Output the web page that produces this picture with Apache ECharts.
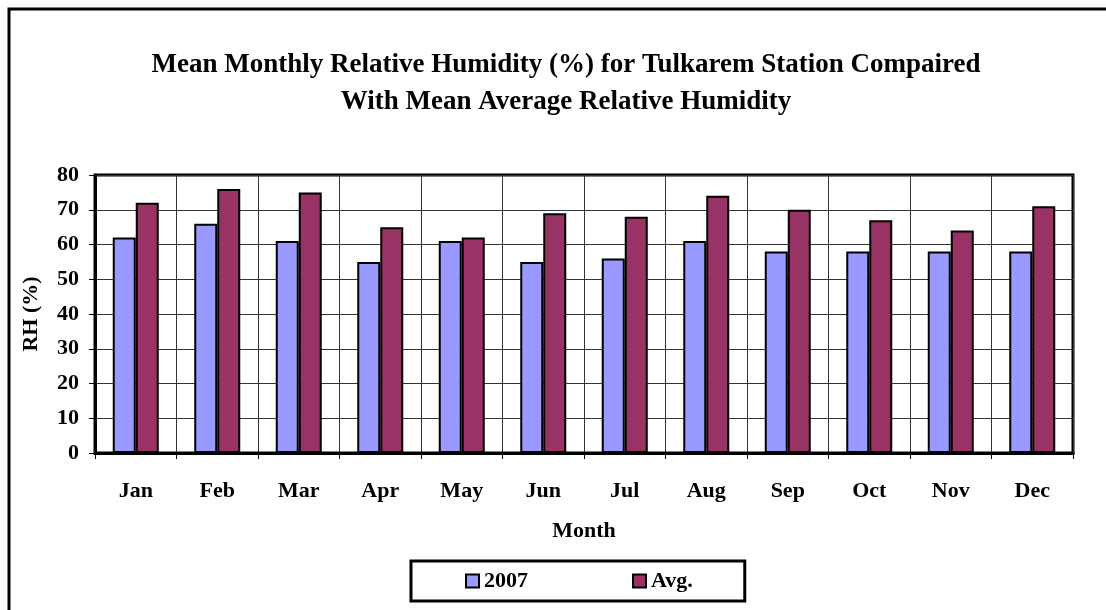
<!DOCTYPE html>
<html>
<head>
<meta charset="utf-8">
<script src="https://cdn.jsdelivr.net/npm/echarts@6/dist/echarts.min.js"></script>
<style>
  html, body { margin: 0; padding: 0; background: #fff; }
  #chart { width: 1106px; height: 610px; }
</style>
</head>
<body>
<div id="chart"></div>
<script>
  const months = ['Jan', 'Feb', 'Mar', 'Apr', 'May', 'Jun', 'Jul', 'Aug', 'Sep', 'Oct', 'Nov', 'Dec']
  const rh2007 = [62, 66, 61, 55, 61, 55, 56, 61, 58, 58, 58, 58]
  const rhAvg = [72, 76, 75, 65, 62, 69, 68, 74, 70, 67, 64, 71]

  const font = '"Liberation Serif", "Times New Roman", serif'

  const chart = echarts.init(document.getElementById('chart'))
  const options = {
    backgroundColor: '#fff',
    animation: false,
    title: {
      text: 'Mean Monthly Relative Humidity (%) for Tulkarem Station Compaired\nWith Mean Average Relative Humidity',
      left: 561,
      textAlign: 'center',
      top: 42,
      textStyle: {
        fontFamily: font,
        fontSize: 27,
        fontWeight: 'bold',
        color: '#000',
        lineHeight: 37
      }
    },
    graphic: [
      {
        type: 'rect',
        shape: { x: 9, y: 9, width: 1200, height: 700 },
        style: { fill: 'none', stroke: '#000', lineWidth: 3 },
        silent: true
      }
    ],
    legend: {
      left: 411,
      top: 561,
      orient: 'horizontal',
      padding: [9, 52, 9, 54],
      itemGap: 104,
      itemWidth: 13,
      itemHeight: 13,
      icon: 'rect',
      borderColor: '#000',
      borderWidth: 3,
      textStyle: {
        fontFamily: font,
        fontSize: 22,
        fontWeight: 'bold',
        color: '#000'
      },
      data: ['2007', 'Avg.']
    },
    grid: {
      left: 95,
      right: 33,
      top: 175,
      bottom: 157,
      show: true,
      borderColor: '#000',
      borderWidth: 3
    },
    xAxis: {
      type: 'category',
      data: months,
      name: 'Month',
      nameLocation: 'middle',
      nameGap: 67,
      nameTextStyle: {
        fontFamily: font,
        fontSize: 22,
        fontWeight: 'bold',
        color: '#000'
      },
      axisLine: { lineStyle: { color: '#000', width: 3 } },
      axisTick: { show: true, length: 6, lineStyle: { color: '#000' } },
      axisLabel: {
        margin: 27,
        fontFamily: font,
        fontSize: 22,
        fontWeight: 'bold',
        color: '#000'
      },
      splitLine: { show: true, lineStyle: { color: '#333', width: 1 } }
    },
    yAxis: {
      type: 'value',
      min: 0,
      max: 80,
      interval: 10,
      name: 'RH (%)',
      nameLocation: 'middle',
      nameGap: 53,
      nameTextStyle: {
        fontFamily: font,
        fontSize: 22,
        fontWeight: 'bold',
        color: '#000'
      },
      axisLine: { show: true, lineStyle: { color: '#000', width: 3 } },
      axisTick: { show: true, length: 6, lineStyle: { color: '#000' } },
      axisLabel: {
        margin: 16,
        fontFamily: font,
        fontSize: 22,
        fontWeight: 'bold',
        color: '#000'
      },
      splitLine: { show: true, lineStyle: { color: '#333', width: 1 } }
    },
    series: [
      {
        name: '2007',
        type: 'bar',
        data: rh2007,
        barWidth: 23,
        barGap: '0%',
        itemStyle: { color: '#9999FF', borderColor: '#000', borderWidth: 2 }
      },
      {
        name: 'Avg.',
        type: 'bar',
        data: rhAvg,
        barWidth: 23,
        barGap: '0%',
        itemStyle: { color: '#993366', borderColor: '#000', borderWidth: 2 }
      }
    ]
  }
  chart.setOption(options)
</script>
</body>
</html>
